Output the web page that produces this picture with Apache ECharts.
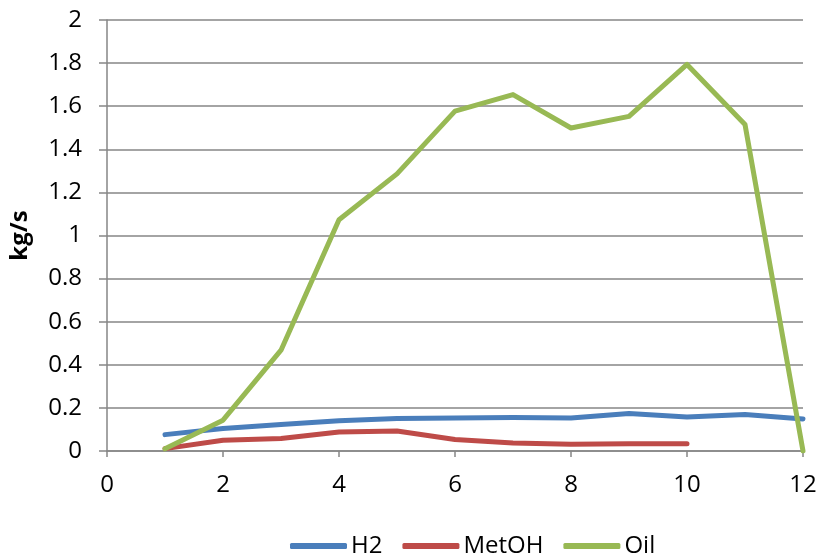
<!DOCTYPE html>
<html>
<head>
<meta charset="utf-8">
<script src="https://cdn.jsdelivr.net/npm/echarts@6/dist/echarts.min.js"></script>
<style>
  html, body { margin: 0; padding: 0; background: #fff; }
  #chart { width: 823px; height: 555px; }
</style>
</head>
<body>
<div id="chart"></div>
<script>
// Mass flow per stage (kg/s)
const xValues = [1, 2, 3, 4, 5, 6, 7, 8, 9, 10, 11, 12];
const h2 = [0.076, 0.104, 0.123, 0.140, 0.151, 0.153, 0.155, 0.153, 0.174, 0.158, 0.169, 0.149];
const metoh = [0.011, 0.050, 0.058, 0.088, 0.093, 0.053, 0.037, 0.031, 0.034, 0.034];
const oil = [0.010, 0.143, 0.468, 1.073, 1.286, 1.577, 1.654, 1.499, 1.553, 1.794, 1.515, 0.0];

const pairs = (vals) => vals.map((v, i) => [xValues[i], v]);

const font = 'Open Sans, Liberation Sans, sans-serif';
const axisGray = '#868686';

const chart = echarts.init(document.getElementById('chart'));
chart.setOption({
  animation: false,
  grid: { left: 107, right: 20, top: 20, bottom: 104 },
  legend: {
    top: 529,
    left: 285,
    itemWidth: 57,
    itemHeight: 6,
    itemGap: 20,
    icon: 'roundRect',
    textStyle: { fontFamily: font, fontSize: 24, color: '#000', padding: [0, 0, 0, -1] },
    data: ['H2', 'MetOH', 'Oil']
  },
  xAxis: {
    type: 'value',
    min: 0, max: 12, interval: 2,
    axisLine: { show: true, lineStyle: { color: axisGray, width: 1.5 } },
    axisTick: { show: true, length: 6, lineStyle: { color: axisGray, width: 1.5 } },
    splitLine: { show: false },
    axisLabel: { fontFamily: font, fontSize: 24, color: '#000', margin: 22 }
  },
  yAxis: {
    type: 'value',
    min: 0, max: 2, interval: 0.2,
    name: 'kg/s',
    nameLocation: 'middle',
    nameGap: 75,
    nameTextStyle: { fontFamily: font, fontSize: 24, fontWeight: 'bold', color: '#000' },
    axisLine: { show: true, lineStyle: { color: axisGray, width: 1.5 } },
    axisTick: { show: true, length: 8, lineStyle: { color: axisGray, width: 1.5 } },
    splitLine: { show: true, lineStyle: { color: axisGray, width: 1.5 } },
    axisLabel: {
      fontFamily: font, fontSize: 24, color: '#000', margin: 25,
      formatter: (v) => String(Math.round(v * 10) / 10)
    }
  },
  series: [
    { name: 'H2', type: 'line', data: pairs(h2), showSymbol: false,
      color: '#4A7EBB', lineStyle: { width: 5, color: '#4A7EBB', cap: 'round', join: 'round' } },
    { name: 'MetOH', type: 'line', data: pairs(metoh), showSymbol: false,
      color: '#BE4B48', lineStyle: { width: 5, color: '#BE4B48', cap: 'round', join: 'round' } },
    { name: 'Oil', type: 'line', data: pairs(oil), showSymbol: false,
      color: '#98B954', lineStyle: { width: 5, color: '#98B954', cap: 'round', join: 'round' } }
  ]
});
</script>
</body>
</html>
